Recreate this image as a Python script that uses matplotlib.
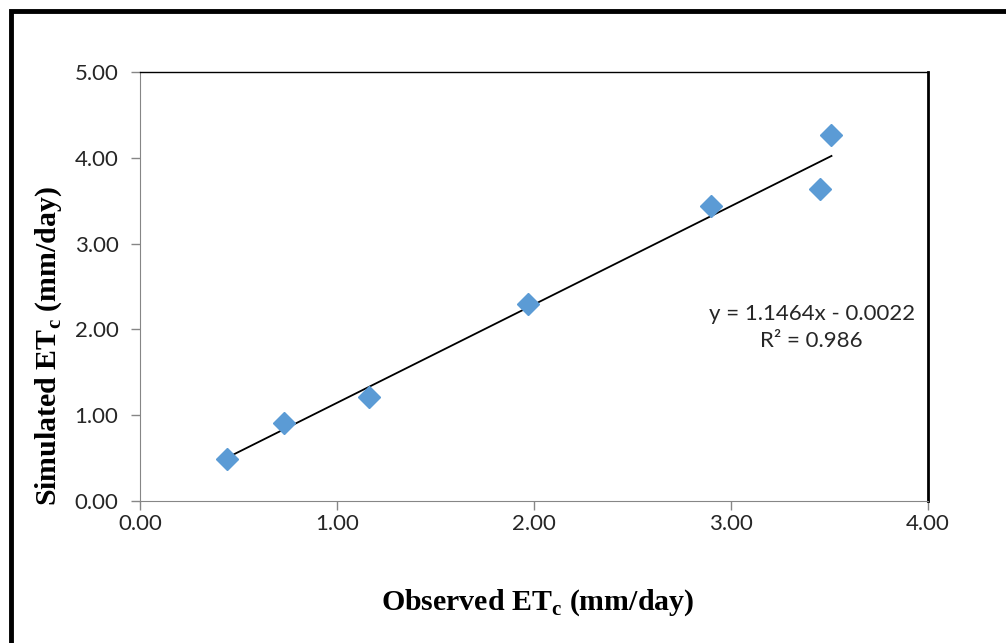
import matplotlib
matplotlib.use("Agg")
from matplotlib import pyplot as plt
from matplotlib.patches import Rectangle

# observed vs simulated ETc (mm/day)
observed = [0.44, 0.73, 1.16, 1.97, 2.90, 3.45, 3.51]
simulated = [0.49, 0.91, 1.21, 2.30, 3.44, 3.64, 4.26]

# trendline y = a*x + b as printed on the chart
slope = 1.1464
intercept = -0.0022
r2 = 0.986

x_ticks = [0, 1, 2, 3, 4]
y_ticks = [0, 1, 2, 3, 4, 5]

tick_font = "Lato"
label_font = "Liberation Serif"
gray = "#868686"

fig = plt.figure(figsize=(10.06, 6.43), dpi=100)
ax = fig.add_axes([140 / 1006, 1 - 501 / 643, 788 / 1006, 429 / 643])

# trendline over the data range
x_line = [min(observed), max(observed)]
y_line = [slope * v + intercept for v in x_line]
ax.plot(x_line, y_line, color="black", lw=1.3, zorder=2)

ax.plot(observed, simulated, ls="none", marker="D", markersize=11,
        color="#5B9BD5", zorder=3)

ax.set_xlim(0, 4)
ax.set_ylim(0, 5)
ax.set_xticks(x_ticks)
ax.set_yticks(y_ticks)
ax.set_xticklabels([f"{v:.2f}" for v in x_ticks], fontfamily=tick_font, fontsize=16, color="#262626")
ax.set_yticklabels([f"{v:.2f}" for v in y_ticks], fontfamily=tick_font, fontsize=16, color="#262626")
ax.tick_params(axis="both", direction="out", length=6.5, width=1, color=gray)
ax.tick_params(axis="x", pad=3)
ax.tick_params(axis="y", pad=9)

ax.spines["left"].set_color(gray)
ax.spines["bottom"].set_color(gray)
ax.spines["top"].set_color("black")
ax.spines["top"].set_linewidth(1.0)
ax.spines["right"].set_color("black")
ax.spines["right"].set_linewidth(2.0)

ax.text(3.41, 2.18, f"y = {slope}x - {abs(intercept):.4f}", ha="center", va="center",
        fontfamily=tick_font, fontsize=16, color="#262626")
ax.text(3.41, 1.87, f"R² = {r2}", ha="center", va="center",
        fontfamily=tick_font, fontsize=16, color="#262626")

fig.text(538 / 1006, 1 - 603 / 643, r"Observed ET$_\mathregular{c}$ (mm/day)",
         ha="center", va="center", fontfamily=label_font, fontweight="bold", fontsize=21.5)
fig.text(49 / 1006, 1 - 346 / 643, r"Simulated ET$_\mathregular{c}$ (mm/day)",
         ha="center", va="center", rotation=90, fontfamily=label_font, fontweight="bold", fontsize=21.5)

# thick outer frame, only top and left edges fall inside the picture
fig.add_artist(Rectangle((10.5 / 1006, -0.2), 1.2, 1.2 - 10.5 / 643,
                         transform=fig.transFigure, fill=False, ec="black", lw=3.5))

fig.savefig("out.png", dpi=100)
